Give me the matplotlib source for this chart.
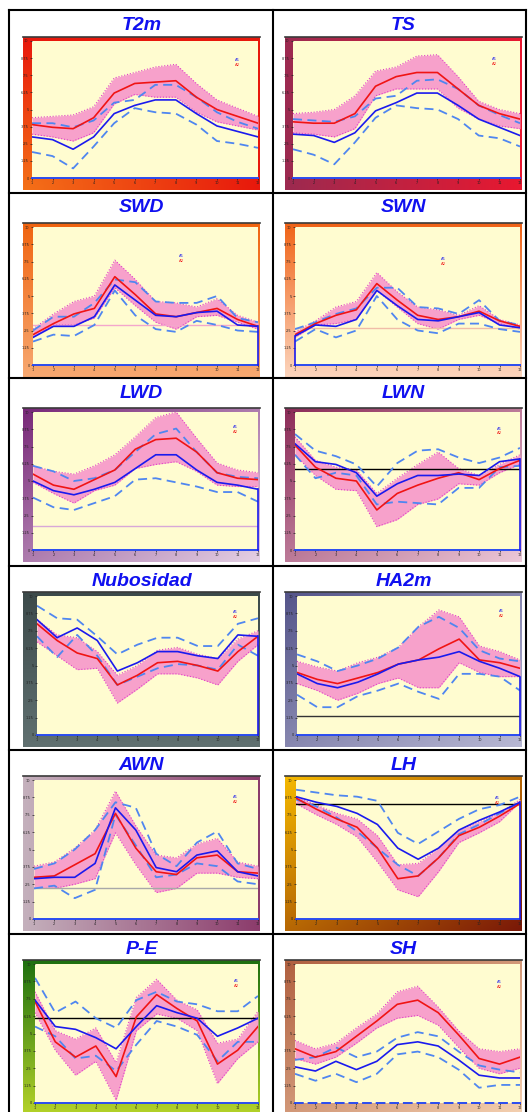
import numpy as np
import matplotlib.pyplot as plt
from matplotlib.colors import to_rgb
from matplotlib.lines import Line2D

W, H = 528, 1112
dpi = 100

months = np.arange(1, 13)
titles = ['T2m', 'TS', 'SWD', 'SWN', 'LWD', 'LWN',
          'Nubosidad', 'HA2m', 'AWN', 'LH', 'P-E', 'SH']
legend_labels = ['A1', 'A2']

# per panel: red / blue solid, blue dashed upper / lower, pink band upper / lower
t2m_red = [3.9, 3.7, 3.6, 4.4, 6.2, 6.9, 7.0, 7.1, 5.9, 5.0, 4.5, 4.0]
t2m_blue = [3.0, 2.8, 2.1, 3.0, 4.7, 5.3, 5.7, 5.7, 4.7, 3.8, 3.4, 3.0]
t2m_dhi = [4.0, 4.0, 3.7, 4.2, 5.5, 5.7, 6.8, 6.8, 5.9, 4.8, 4.1, 3.6]
t2m_dlo = [1.9, 1.6, 0.7, 2.3, 4.0, 5.1, 4.8, 4.7, 3.9, 2.7, 2.5, 2.2]
t2m_bhi = [4.4, 4.5, 4.6, 5.2, 7.3, 7.7, 8.1, 8.3, 6.9, 5.7, 5.1, 4.5]
t2m_blo = [3.2, 3.0, 2.7, 3.3, 5.4, 6.1, 5.9, 5.9, 4.8, 4.1, 3.8, 3.5]

ts_red = [4.1, 4.0, 4.0, 4.7, 6.7, 7.4, 7.7, 7.7, 6.5, 5.3, 4.7, 4.3]
ts_blue = [3.2, 3.1, 2.6, 3.3, 4.9, 5.5, 6.2, 6.2, 5.3, 4.3, 3.7, 3.1]
ts_dhi = [4.3, 4.2, 4.1, 4.5, 5.8, 6.0, 7.1, 7.2, 6.5, 5.3, 4.6, 4.0]
ts_dlo = [2.1, 1.7, 1.0, 2.6, 4.4, 5.3, 5.1, 5.0, 4.3, 3.1, 2.9, 2.3]
ts_bhi = [4.7, 4.8, 5.0, 6.0, 7.8, 8.1, 8.9, 9.0, 7.4, 5.6, 5.0, 4.7]
ts_blo = [3.3, 3.2, 3.0, 3.6, 6.0, 6.5, 6.5, 6.5, 5.1, 4.3, 3.8, 3.6]

swd_red = [2.2, 3.0, 3.7, 4.1, 6.4, 5.1, 3.7, 3.5, 3.8, 4.1, 3.3, 2.8]
swd_blue = [2.0, 2.8, 2.8, 3.5, 5.8, 4.7, 3.6, 3.5, 3.8, 3.9, 2.9, 2.8]
swd_dhi = [2.5, 3.5, 3.5, 4.5, 6.2, 6.0, 4.6, 4.5, 4.5, 5.0, 3.4, 3.1]
swd_dlo = [1.7, 2.2, 2.1, 2.9, 5.4, 3.6, 2.6, 2.4, 3.2, 2.9, 2.5, 2.4]
swd_bhi = [2.6, 3.7, 4.6, 5.0, 7.6, 6.2, 4.6, 4.5, 4.2, 4.8, 3.6, 3.1]
swd_blo = [2.0, 2.9, 2.9, 3.4, 5.6, 4.3, 3.1, 2.6, 3.5, 3.6, 3.1, 2.6]

swn_red = [2.2, 3.0, 3.6, 4.0, 5.9, 4.7, 3.6, 3.3, 3.5, 3.9, 3.2, 2.8]
swn_blue = [2.1, 2.9, 2.8, 3.3, 5.4, 4.3, 3.3, 3.2, 3.5, 3.8, 2.9, 2.7]
swn_dhi = [2.6, 3.1, 3.7, 4.1, 5.6, 5.6, 4.2, 4.1, 3.7, 4.7, 3.2, 2.9]
swn_dlo = [1.7, 2.6, 2.0, 2.5, 5.0, 3.3, 2.5, 2.3, 3.0, 3.0, 2.6, 2.4]
swn_bhi = [2.4, 3.2, 4.2, 4.6, 6.7, 5.3, 4.2, 4.0, 3.6, 4.3, 3.3, 2.9]
swn_blo = [2.0, 2.9, 3.0, 3.3, 5.4, 4.2, 3.0, 2.6, 3.3, 3.6, 3.0, 2.6]

lwd_red = [5.5, 4.7, 4.4, 5.1, 5.8, 7.3, 8.0, 8.1, 7.1, 5.6, 5.2, 5.1]
lwd_blue = [5.0, 4.3, 4.0, 4.4, 4.9, 5.9, 6.9, 6.9, 5.8, 4.9, 4.7, 4.4]
lwd_dhi = [6.1, 5.7, 5.0, 5.2, 5.8, 7.1, 8.4, 8.8, 7.1, 5.6, 5.3, 5.2]
lwd_dlo = [3.8, 3.1, 2.9, 3.4, 3.9, 5.1, 5.2, 4.9, 4.6, 4.2, 4.2, 3.5]
lwd_bhi = [6.1, 5.7, 5.5, 6.1, 6.9, 8.2, 9.6, 10.0, 8.1, 6.3, 5.8, 5.6]
lwd_blo = [4.9, 4.1, 3.4, 4.3, 4.7, 5.9, 6.2, 6.4, 5.7, 4.7, 4.6, 4.6]

lwn_red = [7.6, 6.0, 5.2, 5.0, 2.9, 4.1, 4.7, 5.2, 5.6, 5.1, 5.9, 6.5]
lwn_blue = [7.7, 6.4, 6.2, 5.6, 3.9, 4.8, 5.4, 5.4, 5.5, 5.4, 6.4, 6.6]
lwn_dhi = [8.4, 7.2, 6.8, 6.2, 4.6, 6.3, 7.2, 7.3, 6.7, 6.3, 6.7, 7.4]
lwn_dlo = [6.9, 5.2, 5.6, 5.4, 3.3, 3.5, 3.4, 3.3, 4.5, 4.5, 6.0, 6.1]
lwn_bhi = [8.2, 6.5, 6.0, 5.8, 4.1, 5.2, 6.2, 7.1, 5.9, 5.4, 6.2, 6.9]
lwn_blo = [6.9, 5.4, 4.4, 4.3, 1.7, 2.2, 3.3, 3.7, 4.8, 4.7, 5.6, 6.2]

nub_red = [8.0, 6.8, 5.9, 5.5, 3.6, 4.3, 5.2, 5.3, 5.0, 4.6, 6.0, 7.1]
nub_blue = [8.3, 7.0, 7.7, 6.8, 4.6, 5.2, 6.0, 6.0, 5.7, 5.5, 7.2, 7.1]
nub_dhi = [9.3, 8.4, 8.3, 7.1, 5.8, 6.5, 7.0, 7.0, 6.4, 6.4, 8.0, 8.4]
nub_dlo = [7.1, 5.6, 7.2, 5.7, 3.6, 4.2, 4.8, 5.1, 5.0, 4.7, 6.5, 5.7]
nub_bhi = [8.3, 7.2, 7.0, 6.0, 4.3, 5.0, 6.1, 6.3, 5.8, 5.5, 6.9, 7.5]
nub_blo = [6.7, 5.7, 4.7, 4.8, 2.3, 3.3, 4.4, 4.4, 4.1, 3.6, 5.3, 6.5]

ha2m_red = [4.5, 4.0, 3.7, 4.1, 4.5, 5.1, 5.4, 6.2, 6.9, 5.4, 5.2, 4.8]
ha2m_blue = [4.4, 3.7, 3.4, 3.8, 4.4, 5.1, 5.4, 5.6, 6.0, 5.3, 4.8, 4.2]
ha2m_dhi = [5.8, 5.3, 4.6, 5.0, 5.5, 6.3, 7.8, 8.5, 7.7, 6.1, 5.5, 5.3]
ha2m_dlo = [2.9, 2.0, 2.0, 2.8, 3.2, 3.7, 3.1, 2.6, 4.4, 4.4, 4.2, 3.2]
ha2m_bhi = [5.3, 4.9, 4.6, 5.2, 5.6, 6.3, 7.8, 9.0, 8.5, 6.4, 6.0, 5.4]
ha2m_blo = [3.7, 3.2, 2.5, 3.0, 3.7, 4.1, 3.4, 3.4, 5.2, 4.5, 4.2, 4.2]

awn_red = [3.0, 3.1, 3.9, 4.7, 7.6, 5.1, 3.4, 3.2, 4.4, 4.6, 3.4, 3.3]
awn_blue = [2.9, 3.0, 3.0, 4.0, 8.0, 6.4, 3.7, 3.4, 4.6, 4.9, 3.4, 3.1]
awn_dhi = [3.6, 4.0, 5.0, 6.4, 8.4, 8.0, 4.7, 3.8, 5.5, 6.3, 4.0, 3.6]
awn_dlo = [2.2, 2.4, 1.5, 2.1, 7.5, 5.3, 3.0, 3.2, 4.0, 3.8, 2.7, 2.5]
awn_bhi = [3.8, 4.1, 5.1, 6.4, 9.2, 6.7, 4.6, 4.4, 5.4, 5.8, 4.1, 3.8]
awn_blo = [2.2, 2.2, 2.5, 2.9, 6.2, 3.9, 1.9, 2.2, 3.3, 3.3, 3.0, 2.9]

lh_red = [8.7, 7.9, 7.2, 6.6, 5.1, 2.9, 3.1, 4.4, 6.0, 6.6, 7.4, 8.3]
lh_blue = [8.8, 8.4, 8.1, 7.6, 6.8, 5.1, 4.3, 5.1, 6.4, 7.1, 7.7, 8.4]
lh_dhi = [9.3, 9.1, 8.9, 8.8, 8.5, 6.2, 5.4, 6.3, 7.2, 7.9, 8.2, 8.8]
lh_dlo = [8.6, 8.1, 7.3, 6.3, 5.1, 3.9, 3.1, 4.4, 6.1, 6.8, 7.6, 8.4]
lh_bhi = [8.8, 8.2, 7.6, 7.2, 6.0, 3.9, 4.0, 5.1, 6.4, 7.0, 7.6, 8.6]
lh_blo = [8.3, 7.5, 6.8, 5.9, 4.1, 2.1, 1.6, 3.4, 5.5, 6.2, 7.0, 8.4]

pe_red = [7.3, 4.4, 3.3, 4.1, 1.9, 6.2, 7.8, 6.8, 5.9, 2.8, 3.8, 5.5]
pe_blue = [7.4, 5.5, 5.3, 4.7, 3.9, 5.5, 7.0, 6.5, 6.1, 4.8, 5.4, 6.1]
pe_dhi = [9.0, 6.5, 7.3, 6.1, 5.4, 7.4, 8.0, 7.3, 7.1, 6.6, 6.6, 7.7]
pe_dlo = [5.5, 4.8, 3.2, 3.4, 2.3, 4.2, 5.9, 5.5, 4.9, 3.0, 4.4, 4.4]
pe_bhi = [8.0, 5.2, 4.6, 5.4, 2.9, 7.6, 8.9, 7.4, 6.7, 4.3, 4.6, 6.6]
pe_blo = [6.5, 3.8, 2.0, 3.0, 0.2, 5.2, 6.4, 6.1, 5.2, 1.4, 3.2, 4.4]

sh_red = [3.9, 3.3, 3.7, 4.8, 5.9, 7.1, 7.4, 6.5, 4.9, 3.2, 2.8, 3.3]
sh_blue = [2.6, 2.3, 3.0, 2.4, 3.0, 4.2, 4.4, 4.1, 3.1, 2.0, 1.8, 1.8]
sh_dhi = [3.1, 3.3, 4.0, 3.3, 3.7, 4.7, 5.1, 4.8, 3.7, 2.7, 2.4, 2.2]
sh_dlo = [2.1, 1.6, 2.1, 1.5, 2.1, 3.5, 3.7, 3.3, 2.4, 1.1, 1.3, 1.3]
sh_bhi = [4.5, 3.9, 4.3, 5.4, 6.4, 8.0, 8.4, 6.9, 5.2, 3.9, 3.7, 3.9]
sh_blo = [3.2, 2.8, 3.3, 4.3, 5.4, 6.1, 6.3, 5.6, 4.0, 2.5, 2.1, 2.5]

red = [t2m_red, ts_red, swd_red, swn_red, lwd_red, lwn_red,
       nub_red, ha2m_red, awn_red, lh_red, pe_red, sh_red]
blue = [t2m_blue, ts_blue, swd_blue, swn_blue, lwd_blue, lwn_blue,
        nub_blue, ha2m_blue, awn_blue, lh_blue, pe_blue, sh_blue]
dash_hi = [t2m_dhi, ts_dhi, swd_dhi, swn_dhi, lwd_dhi, lwn_dhi,
           nub_dhi, ha2m_dhi, awn_dhi, lh_dhi, pe_dhi, sh_dhi]
dash_lo = [t2m_dlo, ts_dlo, swd_dlo, swn_dlo, lwd_dlo, lwn_dlo,
           nub_dlo, ha2m_dlo, awn_dlo, lh_dlo, pe_dlo, sh_dlo]
band_hi = [t2m_bhi, ts_bhi, swd_bhi, swn_bhi, lwd_bhi, lwn_bhi,
           nub_bhi, ha2m_bhi, awn_bhi, lh_bhi, pe_bhi, sh_bhi]
band_lo = [t2m_blo, ts_blo, swd_blo, swn_blo, lwd_blo, lwn_blo,
           nub_blo, ha2m_blo, awn_blo, lh_blo, pe_blo, sh_blo]

ref_level = [None, None, 2.9, 2.7, 1.75, 5.9, None, 1.4, 2.2, 8.3, 6.1, None]

# styling
ref_color = [None, None, '#f4a6cc', '#f0bca8', '#d8a8d8', 'k',
             None, '#333333', '#a8a8a8', 'k', 'k', None]
close_side = [None, None, 'r', 'l', 'r', 'r', 'r', 'r', None, 'r', None, None]
frame_style = [('#f47018', '#e8180c', 'c'), ('#9c2a50', '#e81830', 'h'),
               ('#f06410', '#f7a870', 'v'), ('#f06418', '#fcd4bc', 'v'),
               ('#782878', '#e4d0e4', 'd'), ('#8c2c58', '#ecc8d8', 'd'),
               ('#3c4a4a', '#607070', 'v'), ('#55558a', '#b8b8d4', 'd'),
               ('#c4b0bc', '#8c3c6c', 'h'), ('#f4b800', '#7a1808', 'd'),
               ('#1e7010', '#b4d228', 'v'), ('#b06040', '#f4d0b0', 'd')]
legend_pos = [(0.91, 0.86), (0.89, 0.87), (0.66, 0.79), (0.66, 0.77),
              (0.90, 0.89), (0.91, 0.88), (0.90, 0.885), (0.915, 0.89),
              (0.90, 0.88), (0.90, 0.87), (0.905, 0.88), (0.91, 0.87)]
left_pad = [9, 8, 10, 10, 10, 10, 14, 12, 11, 11, 12, 10]

row_top = [10, 193, 378, 566, 750, 934]
frame_top = [37, 223, 408, 592, 776, 960]
frame_bot = [190, 377, 562, 747, 931, 1115]
col_x = [(23, 260), (285, 522)]

C_BLUE = '#1a1aee'
C_RED = '#f01414'
C_DASH = '#4f86f0'
C_BAND = '#f7a1cb'


def gradient(c0, c1, mode, n=64):
    u = np.linspace(0, 1, n)[None, :]
    v = np.linspace(0, 1, n)[:, None]
    if mode == 'v':
        t = v + 0 * u
    elif mode == 'h':
        t = u + 0 * v
    elif mode == 'd':
        t = (u + v) / 2
    else:
        t = np.clip(np.hypot(u, 1 - v), 0, 1)
    a, b = np.array(to_rgb(c0)), np.array(to_rgb(c1))
    return a + (b - a) * t[..., None]


fig = plt.figure(figsize=(W / dpi, H / dpi), dpi=dpi)
fig.patch.set_facecolor('white')


def px_axes(x0, y0, x1, y1):
    return fig.add_axes([x0 / W, 1 - y1 / H, (x1 - x0) / W, (y1 - y0) / H])


for i, title in enumerate(titles):
    r, c = divmod(i, 2)
    fx0, fx1 = col_x[c]
    fy0, fy1 = frame_top[r], frame_bot[r]

    fax = px_axes(fx0, fy0, fx1, fy1)
    fax.imshow(gradient(*frame_style[i]), extent=[0, 1, 0, 1],
               aspect='auto', interpolation='bilinear')
    fax.set_xticks([])
    fax.set_yticks([])
    for s in ['left', 'right', 'bottom']:
        fax.spines[s].set_visible(False)
    fax.spines['top'].set_color('#3a3a3a')
    fax.spines['top'].set_linewidth(1.2)

    ax = px_axes(fx0 + left_pad[i], fy0 + 4, fx1 - 2, fy1 - 12)
    ax.set_facecolor('#fffcd0')
    ax.fill_between(months, band_lo[i], band_hi[i], color=C_BAND, lw=0, zorder=1)
    ax.plot(months, band_hi[i], color='#e040c8', ls=':', lw=0.8, zorder=2)
    ax.plot(months, band_lo[i], color='#e040c8', ls=':', lw=0.8, zorder=2)
    if ref_level[i] is not None:
        ax.axhline(ref_level[i], color=ref_color[i], lw=1.0, zorder=2)
    ax.plot(months, dash_hi[i], color=C_DASH, lw=1.3, dashes=(5, 3), zorder=3)
    ax.plot(months, dash_lo[i], color=C_DASH, lw=1.3, dashes=(5, 3), zorder=3)
    ax.plot(months, red[i], color=C_RED, lw=1.2, zorder=4)
    ax.plot(months, blue[i], color=C_BLUE, lw=1.2, zorder=5)
    if close_side[i] == 'r':
        ax.plot([12, 12], [blue[i][-1], 0], color=C_BLUE, lw=1.2, clip_on=False, zorder=5)
    elif close_side[i] == 'l':
        ax.plot([1, 1], [blue[i][0], 0], color=C_BLUE, lw=1.2, clip_on=False, zorder=5)

    ax.set_xlim(1, 12)
    ax.set_ylim(0, 10)
    for s in ['left', 'right', 'top']:
        ax.spines[s].set_visible(False)
    ax.spines['bottom'].set_color('#2a4cf0')
    ax.spines['bottom'].set_linewidth(1.4)
    if title == 'SH':
        ax.spines['bottom'].set_linestyle((0, (4, 3)))
    ax.set_xticks(months)
    ax.set_xticklabels([str(m) for m in months])
    ax.set_yticks(np.linspace(0, 10, 9))
    ax.set_yticklabels(['%g' % v for v in np.linspace(0, 10, 9)])
    ax.tick_params(labelsize=2.5, length=1.5, width=0.5, pad=1,
                   colors='#222222')

    lx, ly = legend_pos[i]
    ax.text(lx, ly, legend_labels[0], color=C_BLUE, fontsize=2.8,
            transform=ax.transAxes, ha='center', va='center')
    ax.text(lx, ly - 0.035, legend_labels[1], color=C_RED, fontsize=2.8,
            transform=ax.transAxes, ha='center', va='center')

    fig.text((fx0 + fx1) / 2 / W, 1 - (row_top[r] + 15) / H, title,
             ha='center', va='center', fontsize=14, fontweight='bold',
             fontstyle='italic', color='#1010f0', family='Liberation Sans')

# table rules
for y in row_top:
    fig.add_artist(Line2D([9 / W, 526 / W], [1 - y / H, 1 - y / H], color='k', lw=1.5))
for x in [9, 273, 526]:
    fig.add_artist(Line2D([x / W, x / W], [1 - 10 / H, 0], color='k', lw=1.5))

fig.savefig('out.png', dpi=dpi)
